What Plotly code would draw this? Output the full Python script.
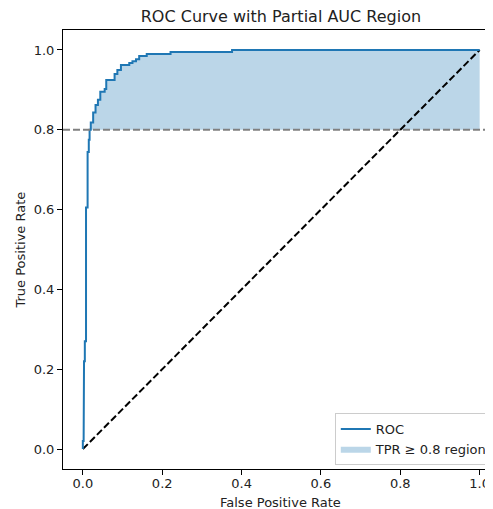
import plotly.graph_objects as go

# ROC curve corner points
fpr = [0.000, 0.000, 0.002, 0.002, 0.003, 0.003, 0.005, 0.005, 0.008, 0.008,
       0.012, 0.012, 0.015, 0.015, 0.017, 0.017, 0.020, 0.020, 0.026, 0.026,
       0.032, 0.032, 0.038, 0.038, 0.044, 0.044, 0.055, 0.055, 0.059, 0.059,
       0.080, 0.080, 0.087, 0.087, 0.096, 0.096, 0.117, 0.117, 0.125, 0.125,
       0.134, 0.134, 0.142, 0.142, 0.161, 0.161, 0.221, 0.221, 0.376, 0.376,
       1.000]
tpr = [0.000, 0.020, 0.020, 0.120, 0.120, 0.220, 0.220, 0.270, 0.270, 0.605,
       0.605, 0.744, 0.744, 0.775, 0.775, 0.800, 0.800, 0.818, 0.818, 0.843,
       0.843, 0.862, 0.862, 0.875, 0.875, 0.895, 0.895, 0.902, 0.902, 0.925,
       0.925, 0.940, 0.940, 0.950, 0.950, 0.962, 0.962, 0.967, 0.967, 0.972,
       0.972, 0.977, 0.977, 0.985, 0.985, 0.990, 0.990, 0.995, 0.995, 1.000,
       1.000]
threshold = 0.8
x_ticks = [0.0, 0.2, 0.4, 0.6, 0.8, 1.0]
y_ticks = [0.0, 0.2, 0.4, 0.6, 0.8, 1.0]

fill_x = [f for f, t in zip(fpr, tpr) if t >= threshold]
fill_y = [t for t in tpr if t >= threshold]

OFF = 8  # page body margin
W, H = 493 - OFF, 509 - OFF
L, R, T, B = 63 - OFF, 0, 30 - OFF, 40
PW, PH = W - L - R, H - T - B

def px_x(page_x):
    return (page_x - OFF - L) / PW

def px_y(page_y):
    return (H - B - (page_y - OFF)) / PH

fig = go.Figure()
# baseline for fill
fig.add_trace(go.Scatter(x=fill_x, y=[threshold] * len(fill_x), mode="lines",
                         line=dict(width=0, color="rgba(0,0,0,0)"),
                         showlegend=False, hoverinfo="skip"))
fig.add_trace(go.Scatter(x=fill_x, y=fill_y, mode="lines", fill="tonexty",
                         fillcolor="rgba(31,119,180,0.3)",
                         line=dict(width=0, color="rgba(31,119,180,0.3)"),
                         name="TPR \u2265 0.8 region"))
# diagonal
fig.add_trace(go.Scatter(x=[0, 1], y=[0, 1], mode="lines",
                         line=dict(color="black", width=2, dash="7px,3px"),
                         showlegend=False))
# ROC
fig.add_trace(go.Scatter(x=fpr, y=tpr, mode="lines",
                         line=dict(color="#1f77b4", width=2),
                         name="ROC"))

fig.add_shape(type="line", xref="paper", yref="y", x0=0, x1=1,
              y0=threshold, y1=threshold,
              line=dict(color="gray", width=2, dash="7px,3px"), layer="above")

axis_common = dict(showline=True, linecolor="black", linewidth=1,
                   ticks="outside", ticklen=5, tickcolor="black",
                   showgrid=False, zeroline=False,
                   tickfont=dict(family="DejaVu Sans", size=13, color="#222"))

fig.update_layout(
    width=W, height=H,
    margin=dict(l=L, r=R, t=T, b=B),
    plot_bgcolor="white", paper_bgcolor="white",
    font=dict(family="DejaVu Sans", size=13, color="#222"),
    title=dict(text="ROC Curve with Partial AUC Region", x=px_x(283.5),
               xref="paper", xanchor="center", y=1 - (16 - OFF) / H, yref="container",
               yanchor="middle", font=dict(size=16, color="#222")),
    xaxis=dict(range=[-0.05, -0.05 + PW / 401.5], tickvals=x_ticks,
               ticktext=[f"{v:.1f}" for v in x_ticks], mirror=True,
               ticklabelstandoff=-3, **axis_common),
    yaxis=dict(range=[-0.05, 1.05], tickvals=y_ticks,
               ticktext=[f"{v:.1f}" for v in y_ticks], mirror=False, **axis_common),
    legend=dict(x=px_x(338), y=px_y(413),
                xanchor="left", yanchor="top",
                bgcolor="rgba(255,255,255,0.8)", bordercolor="#cccccc", borderwidth=1,
                font=dict(size=13, color="#222"), traceorder="reversed",
                entrywidth=150, entrywidthmode="pixels"),
    showlegend=True,
    annotations=[
        dict(text="False Positive Rate", xref="paper", yref="paper",
             x=px_x(283.5), y=px_y(503),
             xanchor="center", yanchor="middle", showarrow=False,
             font=dict(size=13, color="#222")),
        dict(text="True Positive Rate", xref="paper", yref="paper",
             x=px_x(20), y=px_y(250),
             xanchor="center", yanchor="middle", showarrow=False, textangle=-90,
             font=dict(size=13, color="#222")),
    ],
)

fig.write_html("out.html")
